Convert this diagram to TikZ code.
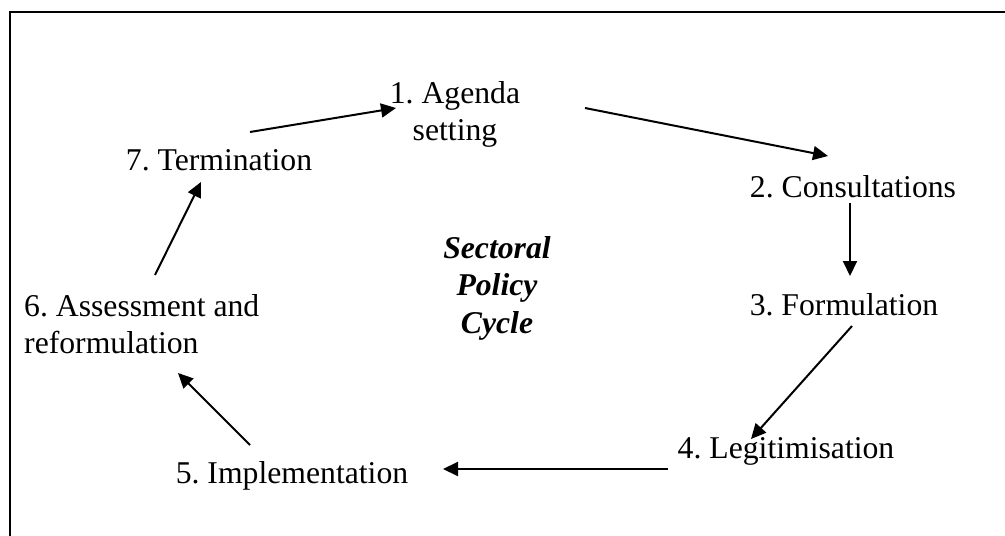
\documentclass[tikz,border=0pt]{standalone}
\usepackage{fontspec}
\setmainfont{Liberation Serif}
\usetikzlibrary{arrows.meta, positioning, calc}

\begin{document}
\begin{tikzpicture}[
    x=1pt, y=-1pt,
    stage/.style={inner sep=0pt, align=center, font=\fontsize{31.7}{37}\selectfont\frenchspacing},
    arrow/.style={-{Triangle[length=15pt, width=14pt]}, line width=2pt}
]
\useasboundingbox (0,0) rectangle (1005,536);

% Frame (runs off the page on the right and bottom)
\draw[line width=2.5pt] (10,536) -- (10,12) -- (1005,12);

% Nodes
\node[stage] (agenda) at (455,114) {1. Agenda\\setting};
\node[stage, anchor=base] (cons) at (853,197) {2. Consultations};
\node[stage, anchor=base] (form) at (844,315) {3. Formulation};
\node[stage, anchor=base] (legit) at (786,458) {4. Legitimisation};
\node[stage, anchor=base] (impl) at (292,483) {5. Implementation};
\node[stage, anchor=west, align=left] (assess) at (24,324) {6. Assessment and\\reformulation};
\node[stage, anchor=base] (term) at (219,170) {7. Termination};
\node[stage, font=\fontsize{31.7}{37.5}\selectfont\bfseries\itshape] (cycle) at (497,288) {Sectoral\\Policy\\Cycle};

% Arrows
\draw[arrow] ($(term.base)+(31,-38)$) -- ($(agenda)+(-59,-6)$);
\draw[arrow] ($(agenda)+(130,-6)$) -- ($(cons.base)+(-25,-41)$);
\draw[arrow] ($(cons.base)+(-3,6)$) -- ($(form.base)+(6,-39)$);
\draw[arrow] ($(form.base)+(8,11)$) -- ($(legit.base)+(-35,-19)$);
\draw[arrow] ($(legit.base)+(-118,11)$) -- ($(impl.base)+(151,-14)$);
\draw[arrow] ($(impl.base)+(-42,-38)$) -- ($(assess.west)+(154,49)$);
\draw[arrow] ($(assess.west)+(131,-49)$) -- ($(term.base)+(-18,12)$);

\end{tikzpicture}
\end{document}
